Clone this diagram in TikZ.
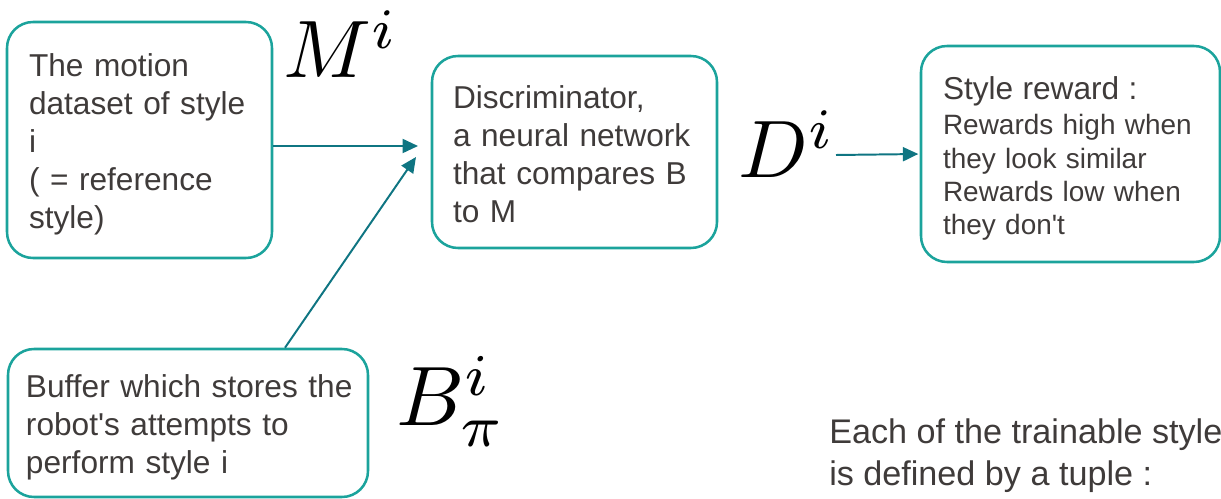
\documentclass[tikz,border=0pt]{standalone}
\usepackage{graphicx}
\usepackage[no-math]{fontspec}
\setmainfont{Liberation Sans}
\usetikzlibrary{arrows.meta}
\definecolor{boxteal}{HTML}{1BA39C}
\definecolor{arrteal}{HTML}{0F7582}
\definecolor{txtgray}{HTML}{3F3B3A}
\def\W{30.525}
\def\H{12.475}
\newcommand{\BigSym}[1]{\scalebox{5.8}{$#1$}}
\newcommand{\Lift}{\rule{0pt}{22pt}}
\tikzset{
  box/.style={draw=boxteal,line width=1.8pt,rounded corners=0.65cm,
    align=left,text=txtgray,font=\fontsize{22.5}{27}\selectfont},
  flow/.style={draw=arrteal,line width=1.4pt,-{Triangle[length=11pt,width=10pt]}},
  lab/.style={anchor=base west,inner sep=0pt}
}
\begin{document}
\begin{tikzpicture}

\useasboundingbox (0,0) rectangle (\W,-\H);
\clip (0,0) rectangle (\W,-\H);

% --- boxes -----------------------------------------------------------
\node[box,minimum width=6.625cm,minimum height=5.9cm,text width=5.525cm,inner xsep=0.55cm]
  (data) at (3.4875,-3.5) {\Lift The motion\\dataset of style\\i\\( = reference\\style)};
\node[box,minimum width=7.125cm,minimum height=4.8cm,text width=6.075cm,inner xsep=0.525cm]
  (disc) at (14.3625,-3.8) {\rule{0pt}{19pt}Discriminator,\\a neural network\\that compares B\\to M};
\node[box,minimum width=7.475cm,minimum height=5.4cm,text width=6.375cm,inner xsep=0.55cm,
  font=\fontsize{19.9}{23.5}\selectfont]
  (reward) at (26.7625,-3.85) {{\fontsize{22.5}{27}\selectfont\Lift Style reward :}\\[2.1pt]Rewards high when\\they look similar\\Rewards low when\\they don\textquotesingle t};
\node[box,minimum width=9cm,minimum height=3.7cm,text width=8.1cm,inner xsep=0.45cm]
  (buffer) at (4.7,-10.575) {\Lift\mbox{Buffer which stores the}\\robot\textquotesingle s attempts to\\perform style i};

% --- math labels -----------------------------------------------------
\node[lab] (mlab) at (7.075,-1.95) {\BigSym{M^i}};
\node[lab] (dlab) at (18.45,-4.45) {\BigSym{D^i}};
\node[lab] (blab) at (9.9,-10.65) {\scalebox{6}{$B^i_\pi$}};

% --- tuple note ------------------------------------------------------
\node[anchor=north west,inner sep=0pt,align=left,text=txtgray,
  font=\fontsize{24.3}{29.9}\selectfont]
  (note) at (20.725,-10.45) {Each of the trainable style\\is defined by a tuple :};

% --- connectors ------------------------------------------------------
\coordinate (mIn) at (10.45,-3.65);
\coordinate (bIn) at (10.4,-3.925);
\coordinate (dOut) at (20.9,-3.875);
\draw[flow] (mIn -| data.east) -- (mIn);
\draw[flow] ([xshift=2.425cm]buffer.north) -- (bIn);
\draw[flow,shorten >=1pt] (dOut) -- (reward.west);

\end{tikzpicture}
\end{document}
